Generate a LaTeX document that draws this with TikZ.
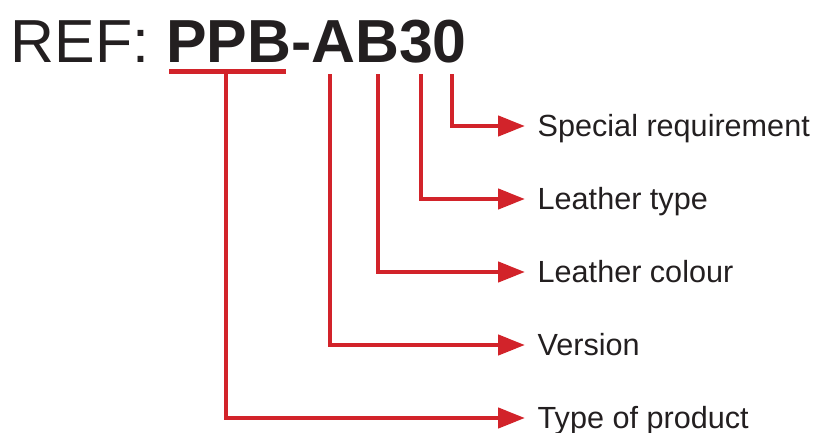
\documentclass[tikz,border=0pt]{standalone}
\usepackage{fontspec}
\setmainfont{Liberation Sans}
\usetikzlibrary{arrows.meta}
\definecolor{refred}{RGB}{210,35,42}
\definecolor{ink}{RGB}{35,31,32}
\begin{document}
\begin{tikzpicture}[x=1pt,y=-1pt,
  conn/.style={draw=refred, line width=4.5pt, -{Triangle[length=27pt,width=20pt]}, line join=miter},
  bar/.style={draw=refred, line width=4.5pt},
  lab/.style={anchor=west, inner xsep=12.5pt, inner ysep=0pt, text height=21.5pt, text depth=0pt, font=\fontsize{30.6pt}{36pt}\selectfont, text=ink},
  titlefont/.style={anchor=base west, inner sep=0pt, font=\fontsize{60.8pt}{70pt}\selectfont, text=ink}]
\useasboundingbox (0,0) rectangle (814,432);
\node[titlefont] (title) at (10.5,62) {REF: \textbf{PPB-AB30}};
% labels
\node[lab] (lSpec) at (525,126) {Special requirement};
\node[lab] (lType) at (525,199) {Leather type};
\node[lab] (lColour) at (525,272) {Leather colour};
\node[lab] (lVersion) at (525,345) {Version};
\node[lab] (lProduct) at (525,418) {Type of product};
% connector origins under the code letters
\coordinate (uL) at (169,71.5);
\coordinate (uR) at (286,71.5);
\coordinate (cPPB) at (226,71.5);
\coordinate (cA) at (330,74);
\coordinate (cB) at (378,74);
\coordinate (c3) at (421,74);
\coordinate (c0) at (452,74);
\draw[bar] (uL) -- (uR);
\draw[conn] (cPPB) |- (lProduct.west);
\draw[conn] (cA) |- (lVersion.west);
\draw[conn] (cB) |- (lColour.west);
\draw[conn] (c3) |- (lType.west);
\draw[conn] (c0) |- (lSpec.west);
\end{tikzpicture}
\end{document}
